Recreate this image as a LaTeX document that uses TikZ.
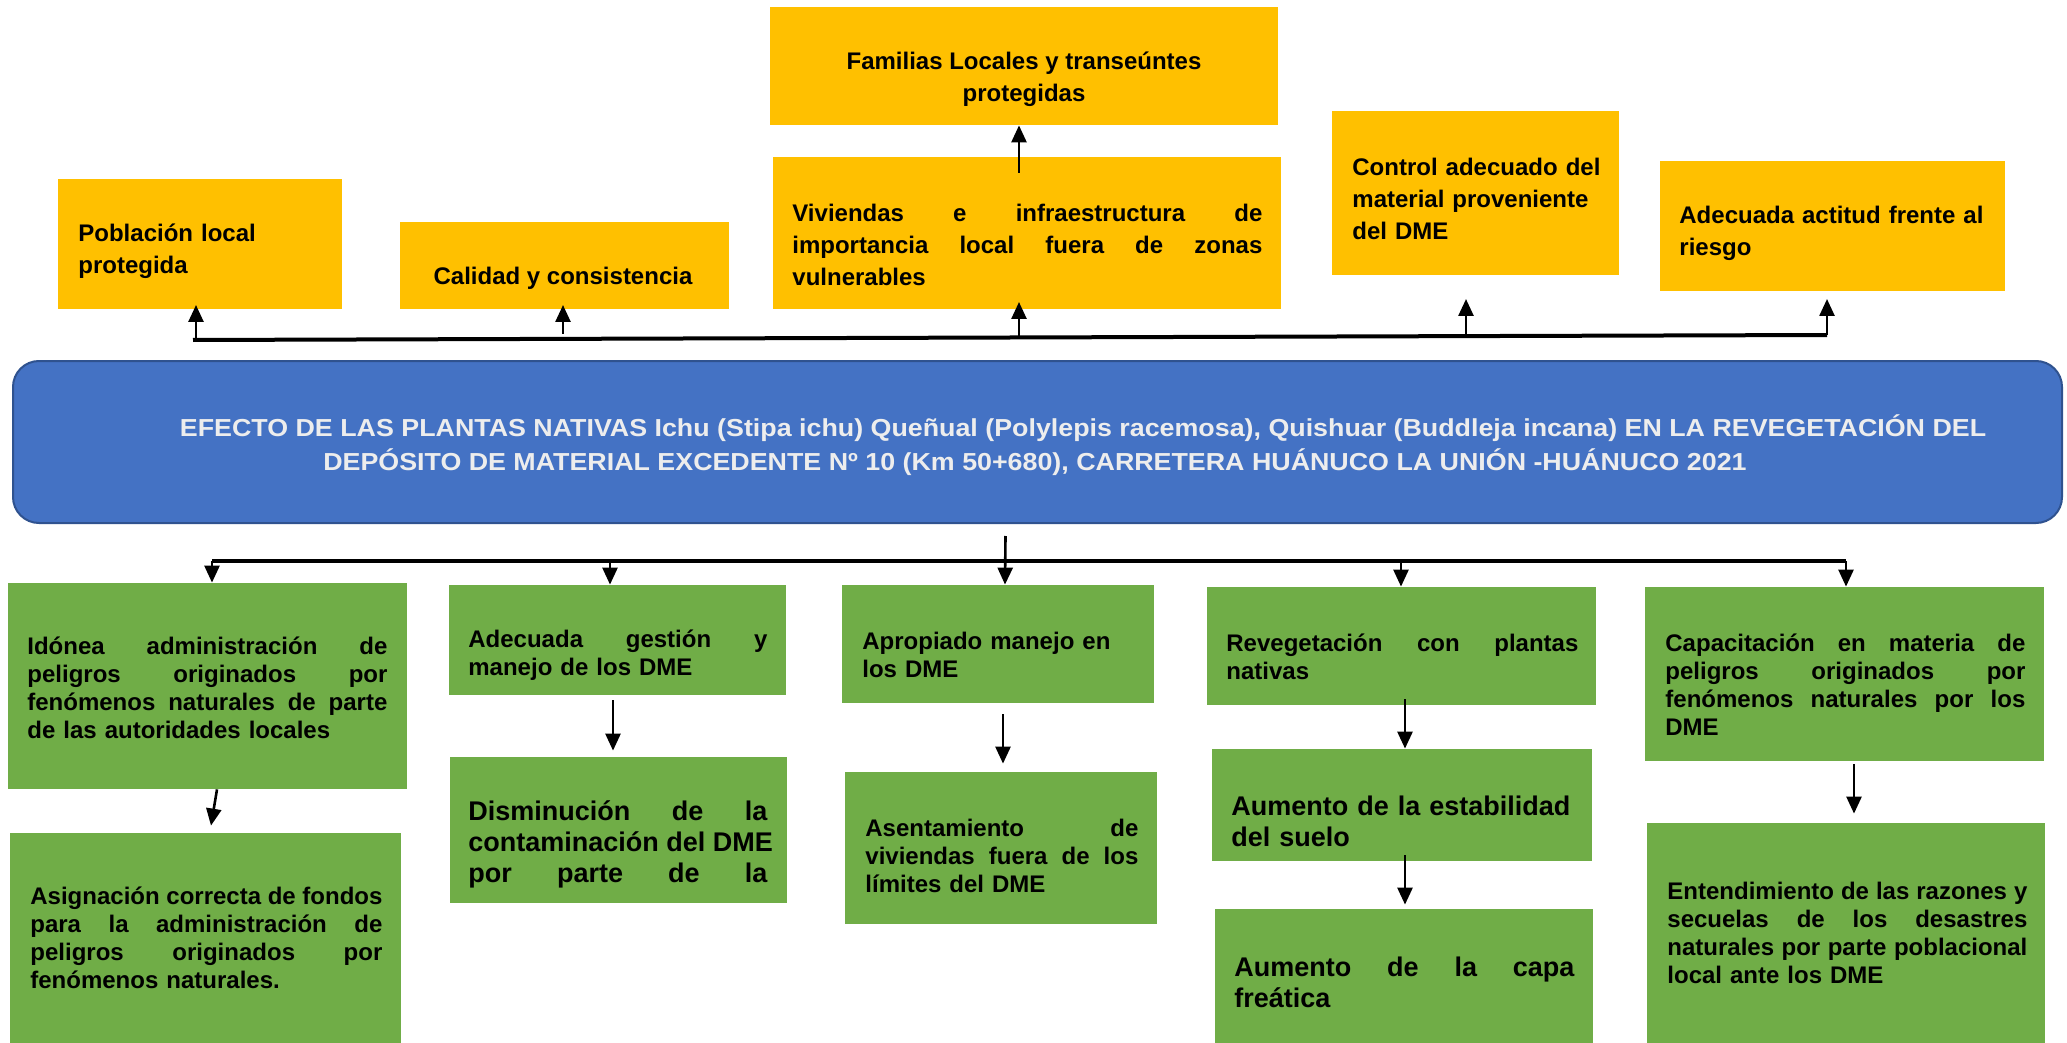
\documentclass[tikz,border=0pt]{standalone}
\usepackage{fontspec}
\setmainfont{Liberation Sans}
\newfontfamily\titlefont{Liberation Sans}[FakeStretch=1.09]
\usetikzlibrary{arrows.meta}
\definecolor{ylw}{HTML}{FFC000}
\definecolor{grn}{HTML}{70AD47}
\definecolor{blu}{HTML}{4472C4}
\definecolor{bluedge}{HTML}{2F528F}
\definecolor{ttl}{HTML}{EDEDED}
\setlength{\parindent}{0pt}
\newcommand{\W}{100pt}
\newcommand{\jl}[1]{\leavevmode\hbox to \W{\spaceskip=\fontdimen2\font plus 1fil\relax #1}}
\newcommand{\bx}[6][]{\node[#1, minimum width={(#5-#3)*0.5pt}, minimum height={(#6-#4)*0.5pt}] (#2) at ({(#3+#5)/2},{(#4+#6)/2}) {};}
\tikzset{
  ybox/.style={fill=ylw, draw=none, inner sep=0pt, rectangle},
  gbox/.style={fill=grn, draw=none, inner sep=0pt, rectangle},
  txt/.style={inner sep=0pt, anchor=west, align=left, font=\bfseries\fontsize{12}{16}\selectfont},
  btxt/.style={inner sep=0pt, anchor=west, align=left, font=\bfseries\fontsize{12}{14}\selectfont},
  ltxt/.style={inner sep=0pt, anchor=west, align=left, font=\bfseries\fontsize{13.5}{15.5}\selectfont},
  arr/.style={line width=1.3pt, -{Triangle[length=8.5pt,width=7.5pt]}},
  thickline/.style={line width=2pt},
}
\begin{document}
\begin{tikzpicture}[x=0.5pt,y=-0.5pt]
\useasboundingbox (0,0) rectangle (2067,1043);
% ---------- top (effects) ----------
\bx[ybox]{pob}{58}{179}{342}{309}
\bx[ybox]{cal}{400}{222}{729}{309}
\bx[ybox]{fam}{770}{7}{1278}{125}
\bx[ybox]{viv}{773}{157}{1281}{309}
\bx[ybox]{con}{1332}{111}{1619}{275}
\bx[ybox]{act}{1660}{161}{2005}{291}

\node[txt, text width=150pt] (pobt) at (78,251) {Población local\\protegida};
\node[txt, anchor=center, align=center] (calt) at (563,278) {Calidad y consistencia};
\node[txt, anchor=center, align=center] (famt) at (1024,79.5) {Familias Locales y transeúntes\\protegidas};
\node[txt, text width=235pt] (vivt) at (792,245) {\renewcommand{\W}{235pt}\jl{Viviendas e infraestructura de}\\\jl{importancia local fuera de zonas}\\vulnerables};
\node[txt, text width=135pt] (cont) at (1352,199) {Control adecuado del\\material proveniente\\del DME};
\node[txt, text width=160pt] (actt) at (1679,233) {Adecuada actitud frente al\\riesgo};

% ---------- title ----------
\node[fill=blu, draw=bluedge, line width=1pt, rounded corners=13pt, inner sep=0pt,
      minimum width={(2062-13)*0.5pt}, minimum height={(523-361)*0.5pt}] (title) at ({(13+2062)/2},{(361+523)/2}) {};
\node[inner sep=0pt, align=center, text=ttl, font=\titlefont\bfseries\fontsize{12.3}{17}\selectfont] (titlet) at (1035,445)
 {\hspace*{48pt}EFECTO DE LAS PLANTAS NATIVAS Ichu (Stipa ichu) Queñual (Polylepis racemosa), Quishuar (Buddleja incana) EN LA REVEGETACIÓN DEL\\DEPÓSITO DE MATERIAL EXCEDENTE Nº 10 (Km 50+680), CARRETERA HUÁNUCO LA UNIÓN -HUÁNUCO 2021};

% ---------- bottom (causes) ----------
\bx[gbox]{ido}{8}{583}{407}{789}
\bx[gbox]{asi}{10}{833}{401}{1043}
\bx[gbox]{ges}{449}{585}{786}{695}
\bx[gbox]{dis}{450}{757}{787}{903}
\bx[gbox]{apr}{842}{585}{1154}{703}
\bx[gbox]{ase}{845}{772}{1157}{924}
\bx[gbox]{rev}{1207}{587}{1596}{705}
\bx[gbox]{est}{1212}{749}{1592}{861}
\bx[gbox]{capa}{1215}{909}{1593}{1043}
\bx[gbox]{capac}{1645}{587}{2044}{761}
\bx[gbox]{ent}{1647}{823}{2045}{1043}

\node[btxt, text width=180pt] (idot) at (27,687.5) {\renewcommand{\W}{180pt}\jl{Idónea administración de}\\\jl{peligros originados por}\\\jl{fenómenos naturales de parte}\\de las autoridades locales};
\node[btxt, text width=176pt] (asit) at (30,938) {\renewcommand{\W}{176pt}\jl{Asignación correcta de fondos}\\\jl{para la administración de}\\\jl{peligros originados por}\\fenómenos naturales.};
\node[btxt, text width=149.5pt] (gest) at (468,655) {\renewcommand{\W}{149.5pt}\jl{Adecuada gestión y}\\manejo de los DME};
\node[ltxt, text width=149.5pt] (dist) at (468,844) {\renewcommand{\W}{149.5pt}\jl{Disminución de la}\\\jl{contaminación del DME}\\\jl{por parte de la}};
\node[btxt, text width=140pt] (aprt) at (862,655) {Apropiado manejo en\\los DME};
\node[btxt, text width=136.5pt] (aset) at (865,856) {\renewcommand{\W}{136.5pt}\jl{Asentamiento de}\\\jl{viviendas fuera de los}\\límites del DME};
\node[btxt, text width=176pt] (revt) at (1226,657) {\renewcommand{\W}{176pt}\jl{Revegetación con plantas}\\nativas};
\node[ltxt, text width=180pt] (estt) at (1231,821) {Aumento de la estabilidad\\del suelo};
\node[ltxt, text width=170pt] (capat) at (1234,982) {\renewcommand{\W}{170pt}\jl{Aumento de la capa}\\freática};
\node[btxt, text width=180pt] (capact) at (1665,684.5) {\renewcommand{\W}{180pt}\jl{Capacitación en materia de}\\\jl{peligros originados por}\\\jl{fenómenos naturales por los}\\DME};
\node[btxt, text width=180pt] (entt) at (1667,933) {\renewcommand{\W}{180pt}\jl{Entendimiento de las razones y}\\\jl{secuelas de los desastres}\\\jl{naturales por parte poblacional}\\local ante los DME};

% ---------- top connectors ----------
\coordinate (tl) at (193,340);
\coordinate (tr) at (1827,335);
\draw[thickline] (tl) -- (tr);
\coordinate (u1) at (196,340);   \coordinate (k1) at (196,305);
\coordinate (u2) at (563,334);   \coordinate (k2) at (563,305);
\coordinate (u3) at (1019,337.5);\coordinate (k3) at (1019,302);
\coordinate (u4) at (1466,336);  \coordinate (k4) at (1466,299);
\coordinate (u5) at (1827,335);  \coordinate (k5) at (1827,299);
\draw[arr] (u1) -- (k1);
\draw[arr] (u2) -- (k2);
\draw[arr] (u3) -- (k3);
\draw[arr] (u4) -- (k4);
\draw[arr] (u5) -- (k5);
\draw[arr] ([xshift=-4pt,yshift=-8pt]viv.north) -- ([xshift=-2.5pt]fam.south);

% ---------- bottom connectors ----------
\coordinate (bl) at (212,561);
\coordinate (br) at (1846,561);
\draw[thickline] (bl) -- (br);
\draw[arr] ([xshift=-16pt,yshift=-6pt]title.south) -- ([xshift=3.5pt]apr.north);
\draw[arr] (bl) -- (bl |- ido.north);
\coordinate (d2) at (610,561);
\draw[arr] (d2) -- (d2 |- ges.north);
\coordinate (d4) at (1401,561);
\draw[arr] (d4) -- (d4 |- rev.north);
\draw[arr] (br) -- (br |- capac.north);

\draw[arr] ([xshift=4.75pt]ido.south) -- ([xshift=2.75pt,yshift=3.5pt]asi.north);
\draw[arr] ([xshift=-2.25pt,yshift=-2.5pt]ges.south) -- ([xshift=-2.75pt,yshift=3pt]dis.north);
\draw[arr] ([xshift=2.5pt,yshift=-5.5pt]apr.south) -- ([xshift=1pt,yshift=4pt]ase.north);
\draw[arr] ([xshift=1.75pt,yshift=3pt]rev.south) -- ([xshift=1.5pt]est.north);
\draw[arr] ([xshift=1.5pt,yshift=3pt]est.south) -- ([xshift=0.5pt,yshift=2pt]capa.north);
\draw[arr] ([xshift=4.75pt,yshift=-1.5pt]capac.south) -- ([xshift=4pt,yshift=4.5pt]ent.north);
\end{tikzpicture}
\end{document}
